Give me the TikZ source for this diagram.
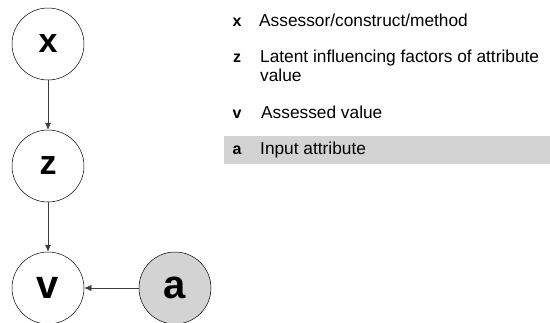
\documentclass[tikz,border=0pt]{standalone}
\usepackage{fontspec}
\setmainfont{Liberation Sans}
\usetikzlibrary{arrows.meta}
\definecolor{shadegray}{RGB}{211,211,211}
\definecolor{linegray}{RGB}{60,60,60}
\tikzset{
  varnode/.style={circle, draw=black, line width=0.5pt, minimum size=72pt, inner sep=0pt, font=\fontsize{34}{36}\selectfont\bfseries},
  bigletter/.style={font=\fontsize{40}{42}\selectfont\bfseries},
  keyletter/.style={anchor=base, inner sep=0pt, font=\fontsize{16}{18}\selectfont\bfseries},
  keytext/.style={anchor=base west, align=left, inner sep=0pt, font=\fontsize{17.3}{19}\selectfont},
  link/.style={draw=linegray, line width=0.5pt, -{Latex[length=7pt,width=6pt]}}
}
\begin{document}
\begin{tikzpicture}[x=1pt,y=1pt,yscale=-1,xscale=1]
\useasboundingbox (0,0) rectangle (550,322);

%Shape: Circle [x]
\node [varnode] (x) at (48,44) {x};
%Shape: Circle [z]
\node [varnode] (z) at (48,166) {z};
%Shape: Circle [v]
\node [varnode, bigletter] (v) at (48,288) {v};
%Shape: Circle [a]
\node [varnode, bigletter, fill=shadegray] (a) at (175,288) {a};

%Straight Lines [x -> z, z -> v, a -> v]
\draw [link] (x) -- (z);
\draw [link] (z) -- (v);
\draw [link] (a) -- (v);

%Shape: Rectangle [shaded key row]
\fill [shadegray] (224,136) rectangle (550,164);

% Text Node
\node [keyletter] (kx) at (237,26) {x};
\node [keytext] (tx) at (259,26) {Assessor/construct/method};
% Text Node
\node [keyletter] (kz) at (237,62.5) {z};
\node [keytext, anchor=north west] (tz) at (260,50) {Latent influencing factors of attribute\\value};
% Text Node
\node [keyletter] (kv) at (237,118.5) {v};
\node [keytext] (tv) at (261,118.5) {Assessed value};
% Text Node
\node [keyletter] (ka) at (237,154) {a};
\node [keytext] (ta) at (260,154) {Input attribute};

\end{tikzpicture}
\end{document}
